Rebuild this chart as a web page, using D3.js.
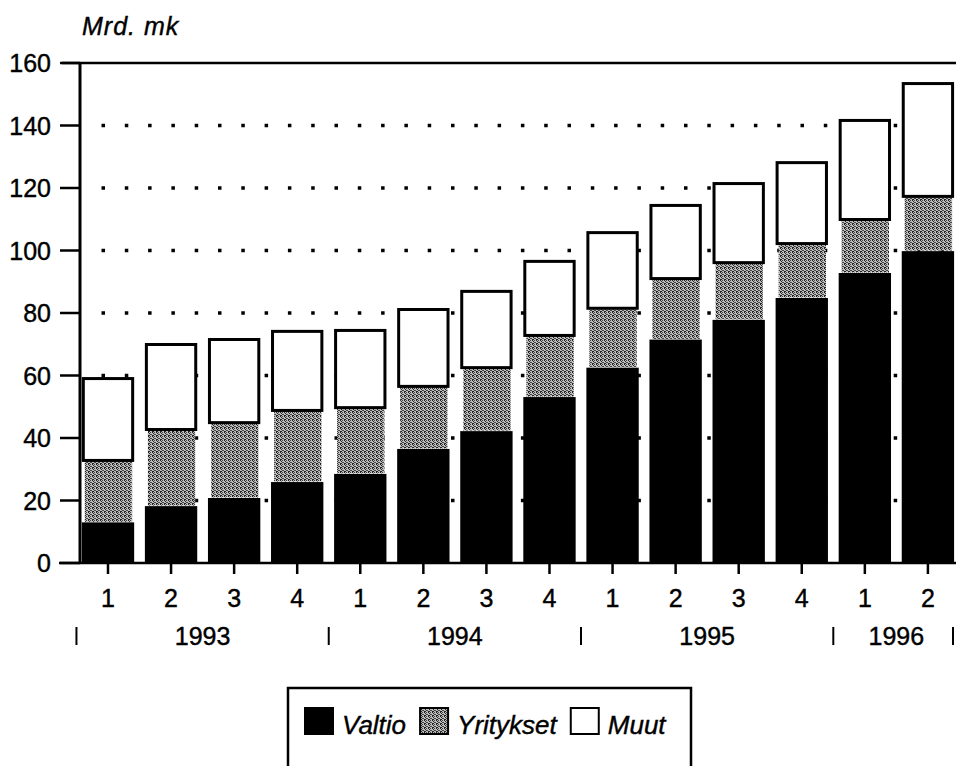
<!DOCTYPE html>
<html>
<head>
<meta charset="utf-8">
<script src="https://cdn.jsdelivr.net/npm/d3@7/dist/d3.min.js"></script>
<style>
  html, body { margin: 0; padding: 0; background: #fff; }
  svg { display: block; }
  text { font-family: "Liberation Sans", Arial, Helvetica, sans-serif; fill: #000; stroke: #000; stroke-width: 0.4px; }
</style>
</head>
<body>
<svg id="chart" width="956" height="766"></svg>
<script>
// ---- Data ----
const quarters = ["1","2","3","4","1","2","3","4","1","2","3","4","1","2"];
const years = [
  { label: "1993", from: 0, to: 3 },
  { label: "1994", from: 4, to: 7 },
  { label: "1995", from: 8, to: 11 },
  { label: "1996", from: 12, to: 13 }
];
const valtio    = [13.0, 18.2, 20.8, 25.9, 28.5, 36.5, 42.2, 53.1, 62.5, 71.5, 77.8, 84.8, 92.8, 99.8];
const yritykset = [20.3, 25.0, 24.6, 23.4, 21.7, 20.5, 20.8, 20.2, 19.5, 20.0, 18.8, 17.9, 17.6, 18.0];
const muut      = [26.2, 27.2, 26.6, 25.3, 24.7, 24.6, 24.4, 23.7, 24.2, 23.4, 25.3, 25.9, 31.7, 36.1];
const seriesNames = ["Valtio", "Yritykset", "Muut"];
const yTicks = [0, 20, 40, 60, 80, 100, 120, 140, 160];
const yTitle = "Mrd. mk";

// ---- Setup ----
const svg = d3.select("#chart");
const W = 956;
const plotLeft = 80, plotTop = 63, plotBottom = 563;

const ids = quarters.map((q, i) => i);
const x = d3.scaleBand().domain(ids).range([76.45, 959.45]).paddingInner(0.17).paddingOuter(0.085);
const y = d3.scaleLinear().domain([0, 160]).range([plotBottom, plotTop]);

const table = ids.map(i => ({ i, Valtio: valtio[i], Yritykset: yritykset[i], Muut: muut[i] }));
const stacked = d3.stack().keys(seriesNames)(table);

// gray dither pattern (non-diagonal 4x4 arrangement)
const defs = svg.append("defs");
const pat = defs.append("pattern").attr("id", "dither").attr("patternUnits", "userSpaceOnUse")
  .attr("width", 4).attr("height", 4);
pat.append("rect").attr("width", 4).attr("height", 4).attr("fill", "#bdbdbd");
const darkPix = [[0,0],[2,0],[1,1],[3,2],[0,3],[2,2],[1,3]];
darkPix.forEach(([px, py], k) => {
  pat.append("rect").attr("x", px).attr("y", py).attr("width", 1).attr("height", 1)
    .attr("fill", k % 2 ? "#444" : "#222");
});

// ---- Dotted gridlines ----
svg.append("g").selectAll("line").data(yTicks.filter(t => t > 0 && t < 160)).join("line")
  .attr("x1", 101.5).attr("x2", W)
  .attr("y1", d => y(d)).attr("y2", d => y(d))
  .attr("stroke", "#000").attr("stroke-width", 3.5)
  .attr("stroke-dasharray", "3.5 19.8");

// ---- Bars ----
const bw = x.bandwidth();
// Valtio (black)
svg.append("g").selectAll("rect").data(stacked[0]).join("rect")
  .attr("x", (d, i) => x(i)).attr("width", bw)
  .attr("y", d => y(d[1])).attr("height", d => y(d[0]) - y(d[1]))
  .attr("fill", "#000");
// Yritykset (gray dither)
svg.append("g").selectAll("rect").data(stacked[1]).join("rect")
  .attr("x", (d, i) => x(i) + 3).attr("width", bw - 5)
  .attr("y", d => y(d[1]) + 1.5).attr("height", d => y(d[0]) - y(d[1]) - 2)
  .attr("fill", "url(#dither)");
// Muut (white, outlined)
svg.append("g").selectAll("rect").data(stacked[2]).join("rect")
  .attr("x", (d, i) => x(i) + 1.5).attr("width", bw - 3)
  .attr("y", d => y(d[1]) + 1.5).attr("height", d => y(d[0]) - y(d[1]))
  .attr("fill", "#fff").attr("stroke", "#000").attr("stroke-width", 3);

// ---- Frame / axes ----
svg.append("line").attr("x1", 62).attr("x2", W).attr("y1", plotTop).attr("y2", plotTop)
  .attr("stroke", "#000").attr("stroke-width", 2.5);
svg.append("line").attr("x1", plotLeft).attr("x2", plotLeft).attr("y1", plotTop).attr("y2", plotBottom)
  .attr("stroke", "#000").attr("stroke-width", 3);
svg.append("line").attr("x1", 59).attr("x2", W).attr("y1", plotBottom).attr("y2", plotBottom)
  .attr("stroke", "#000").attr("stroke-width", 2.5);

// Y axis ticks & labels
const yAxis = svg.append("g");
yAxis.selectAll("line").data(yTicks).join("line")
  .attr("x1", 60).attr("x2", plotLeft).attr("y1", d => y(d)).attr("y2", d => y(d))
  .attr("stroke", "#000").attr("stroke-width", 2.5);
yAxis.selectAll("text").data(yTicks).join("text")
  .attr("x", 51).attr("y", d => y(d) + 9)
  .attr("text-anchor", "end").attr("font-size", 25).text(d => d);

// Y title
svg.append("text").attr("x", 82).attr("y", 35).attr("font-size", 25)
  .attr("font-style", "italic").attr("letter-spacing", 1).text(yTitle);

// X ticks and quarter labels
const xc = i => x(i) + bw / 2;
svg.append("g").selectAll("line").data(ids).join("line")
  .attr("x1", xc).attr("x2", xc).attr("y1", plotBottom).attr("y2", 574)
  .attr("stroke", "#000").attr("stroke-width", 2.5);
svg.append("g").selectAll("text").data(ids).join("text")
  .attr("x", xc).attr("y", 607).attr("text-anchor", "middle").attr("font-size", 25)
  .text(i => quarters[i]);

// Year labels and separators
svg.append("g").selectAll("text").data(years).join("text")
  .attr("x", d => (xc(d.from) + xc(d.to)) / 2).attr("y", 645)
  .attr("text-anchor", "middle").attr("font-size", 25).text(d => d.label);
const step = x.step();
const seps = years.map(d => xc(d.from) - step / 2).concat([Math.min(xc(13) + step / 2, 953)]);
svg.append("g").selectAll("line").data(seps).join("line")
  .attr("x1", d => d).attr("x2", d => d).attr("y1", 627).attr("y2", 645)
  .attr("stroke", "#000").attr("stroke-width", 2);

// ---- Legend ----
const lg = svg.append("g");
lg.append("rect").attr("x", 288).attr("y", 688).attr("width", 403).attr("height", 100)
  .attr("fill", "none").attr("stroke", "#000").attr("stroke-width", 2.5);
const fills = ["#000", "url(#dither)", "#fff"];
let lx = 304;
seriesNames.forEach((name, k) => {
  lg.append("rect").attr("x", lx + 1).attr("y", 708).attr("width", 28).attr("height", 26)
    .attr("fill", fills[k]).attr("stroke", "#000").attr("stroke-width", 2);
  const t = lg.append("text").attr("x", lx + 38).attr("y", 734).attr("font-size", 26)
    .attr("font-style", "italic").text(name);
  lx += 38 + t.node().getComputedTextLength() + 13;
});
</script>
</body>
</html>
